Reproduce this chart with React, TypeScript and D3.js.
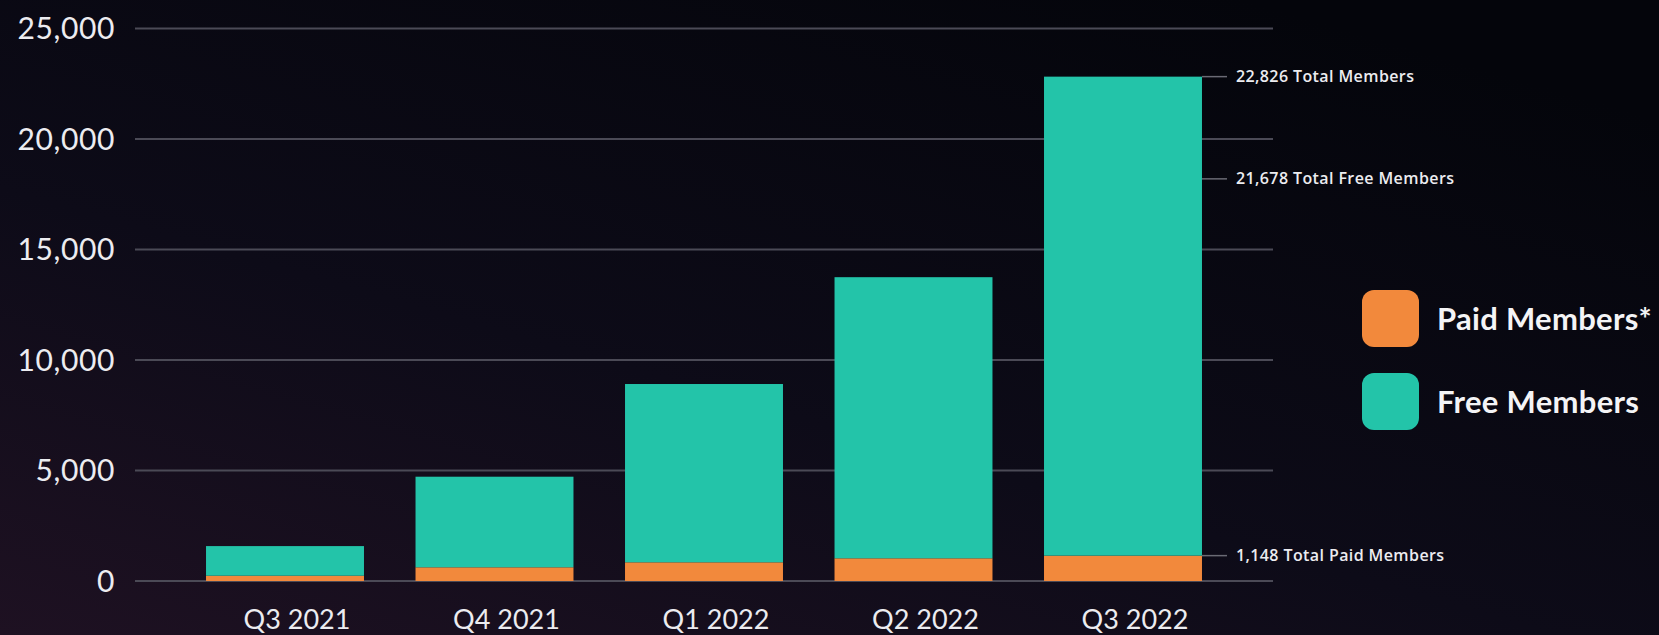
import React from "react";
import * as d3 from "d3";

const categories = ["Q3 2021", "Q4 2021", "Q1 2022", "Q2 2022", "Q3 2022"];
const paidMembers = [240, 620, 846, 1027, 1148];
const freeMembers = [1340, 4100, 8069, 12723, 21678];
const yTicks = [0, 5000, 10000, 15000, 20000, 25000];
const seriesNames = ["Paid Members*", "Free Members"];
const seriesColors = ["#f2893c", "#23c4a9"];
const annotations = [
  { text: "22,826 Total Members", value: 22826 },
  { text: "21,678 Total Free Members", value: 18200 },
  { text: "1,148 Total Paid Members", value: 1148 },
];

const W = 1659;
const H = 635;

export default function App() {
  const x = d3
    .scaleBand<string>()
    .domain(categories)
    .range([135, 1273])
    .paddingInner(0.246)
    .paddingOuter(0.339);
  const y = d3.scaleLinear().domain([0, 25000]).range([581, 28.6]);

  const rows = categories.map((c, i) => ({ cat: c, paid: paidMembers[i], free: freeMembers[i] }));
  const stack = d3.stack<any>().keys(["paid", "free"])(rows);
  const fmt = d3.format(",");
  const lastX = (x(categories[categories.length - 1]) as number) + x.bandwidth();

  return (
    <svg width={W} height={H} style={{ position: "absolute", left: 0, top: 0, display: "block" }}>
      <defs>
        <linearGradient id="bg" x1="0" y1="1" x2="0.75" y2="0">
          <stop offset="0" stopColor="#1e1122" />
          <stop offset="0.45" stopColor="#0d0b18" />
          <stop offset="1" stopColor="#04050b" />
        </linearGradient>
      </defs>
      <rect x={0} y={0} width={W} height={H} fill="url(#bg)" />
      {yTicks.map((t) => (
        <g key={t}>
          <line x1={135} x2={1273} y1={y(t)} y2={y(t)} stroke="#4b4a56" strokeWidth={2} />
          <text
            x={115}
            y={y(t)}
            dy="0.36em"
            textAnchor="end"
            fill="#ececf0"
            fontFamily="Lato, 'Open Sans', sans-serif"
            fontSize={30}
            letterSpacing={0.6}
          >
            {fmt(t)}
          </text>
        </g>
      ))}
      {stack.map((s, si) => (
        <g key={si} fill={seriesColors[si]}>
          {s.map((d, i) => (
            <rect
              key={i}
              x={x(categories[i])}
              y={y(d[1])}
              width={x.bandwidth()}
              height={y(d[0]) - y(d[1])}
            />
          ))}
        </g>
      ))}
      {categories.map((c) => (
        <text
          key={c}
          x={(x(c) as number) + x.bandwidth() / 2 + 12}
          y={629}
          textAnchor="middle"
          fill="#ececf0"
          fontFamily="Lato, 'Open Sans', sans-serif"
          fontSize={27}
        >
          {c}
        </text>
      ))}
      {annotations.map((a) => (
        <g key={a.text}>
          <line x1={lastX} x2={lastX + 25} y1={y(a.value)} y2={y(a.value)} stroke="#6a6a74" strokeWidth={1.5} />
          <text
            x={lastX + 34}
            y={y(a.value)}
            dy="0.35em"
            fill="#ececf0"
            fontFamily="'Open Sans', Lato, sans-serif"
            fontSize={16}
            fontWeight={600}
            letterSpacing={0.4}
          >
            {a.text}
          </text>
        </g>
      ))}
      {seriesNames.map((n, i) => (
        <g key={n} transform={`translate(1362, ${290 + i * 83})`}>
          <rect width={57} height={57} rx={12} fill={seriesColors[i]} />
          <text
            x={75}
            y={28.5}
            dy="0.36em"
            fill="#f4f4f6"
            fontFamily="Lato, 'Open Sans', sans-serif"
            fontSize={31}
            fontWeight={700}
            letterSpacing={0.3}
          >
            {n}
          </text>
        </g>
      ))}
    </svg>
  );
}
